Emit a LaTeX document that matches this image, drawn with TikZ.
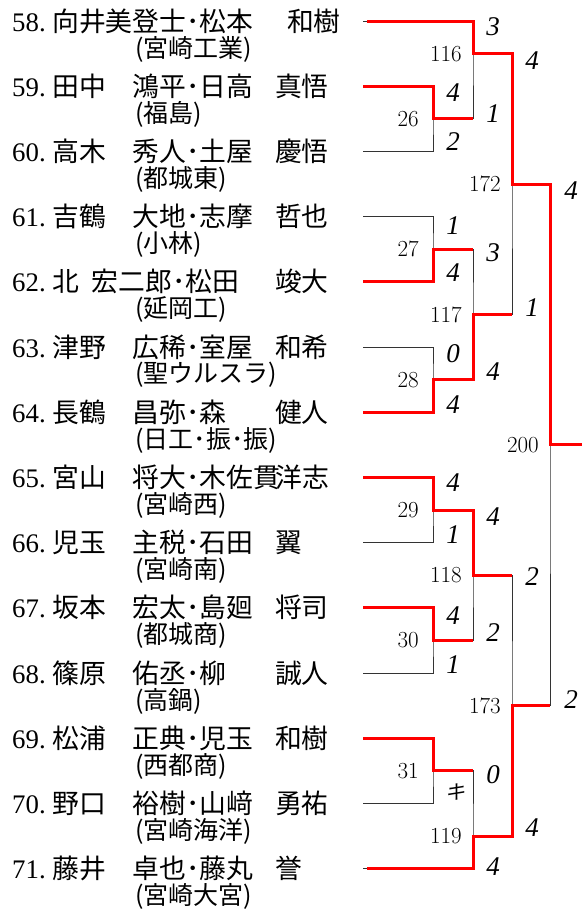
\documentclass[tikz,border=0pt]{standalone}
\usepackage{fontspec}
\usepackage{tikz}
\usetikzlibrary{positioning}
\newfontfamily\cjk{Noto Sans CJK JP}
\newfontfamily\cjkit[FakeSlant=0.2]{Noto Sans CJK JP}
\newfontfamily\lserif{Liberation Serif}

\begin{document}
\begin{tikzpicture}[x=1pt,y=-1pt,
    bline/.style={draw=black!80,line width=0.9pt},
    win/.style={draw=red,line width=3pt},
    pname/.style={anchor=west,inner sep=0pt,font=\fontsize{26.8}{30}\selectfont},
    school/.style={anchor=west,inner sep=0pt,font=\cjk\fontsize{25}{28}\selectfont},
    mno/.style={inner sep=0pt,font=\fontsize{23}{26}\selectfont},
    score/.style={inner sep=0pt,font=\lserif\itshape\fontsize{27}{30}\selectfont}]
    \useasboundingbox (0,0) rectangle (582,910);
    % players
    \foreach \n/\pa/\pb/\sch [count=\i from 0] in {
        58/向井美登士･松本/\hspace{12pt}和樹/宮崎工業,
        59/田中　鴻平･日高/真悟/福島,
        60/高木　秀人･土屋/慶悟/都城東,
        61/吉鶴　大地･志摩/哲也/小林,
        62/北\hspace{13pt}宏二郎･松田/竣大/延岡工,
        63/津野　広稀･室屋/和希/聖ウルスラ,
        64/長鶴　昌弥･森/健人/日工･振･振,
        65/宮山　将大･木佐貫/洋志/宮崎西,
        66/児玉　主税･石田/翼/宮崎南,
        67/坂本　宏太･島廻/将司/都城商,
        68/篠原　佑丞･柳/誠人/高鍋,
        69/松浦　正典･児玉/和樹/西都商,
        70/野口　裕樹･山﨑/勇祐/宮崎海洋,
        71/藤井　卓也･藤丸/誉/宮崎大宮}{
        \pgfmathsetmacro\yy{21+65.2*\i}
        \coordinate (e\n) at (363,\yy);
        \node[pname] (p\n) at (12,\yy) {\makebox[263pt][l]{\makebox[40pt][l]{\lserif\n.}{\cjk\pa}}{\cjk\pb}};
        \node[school] (q\n) at (135,\yy+28) {(\sch)};
    }
    % match points
    \coordinate (m26) at (433,118.8);
    \coordinate (m27) at (433,249.2);
    \coordinate (m28) at (433,379.6);
    \coordinate (m29) at (433,510);
    \coordinate (m30) at (433,640.4);
    \coordinate (m31) at (433,770.8);
    \coordinate (m116) at (473,53.6);
    \coordinate (m117) at (473,314.4);
    \coordinate (m118) at (473,575.2);
    \coordinate (m119) at (473,836);
    \coordinate (m172) at (512,184);
    \coordinate (m173) at (512,705.6);
    \coordinate (m200) at (550,444.8);
    \coordinate (champ) at (582,444.8);
    % bracket
    \draw[bline] (e59) -| (m26) |- (e60);
    \draw[bline] (e61) -| (m27) |- (e62);
    \draw[bline] (e63) -| (m28) |- (e64);
    \draw[bline] (e65) -| (m29) |- (e66);
    \draw[bline] (e67) -| (m30) |- (e68);
    \draw[bline] (e69) -| (m31) |- (e70);
    \draw[bline] (e58) -| (m116) |- (m26);
    \draw[bline] (m27) -| (m117) |- (m28);
    \draw[bline] (m29) -| (m118) |- (m30);
    \draw[bline] (m31) -| (m119) |- (e71);
    \draw[bline] (m116) -| (m172) |- (m117);
    \draw[bline] (m118) -| (m173) |- (m119);
    \draw[bline] (m172) -| (m200) |- (m173);
    % winners
    \draw[win] ([xshift=4pt]e58) -| (m116) -| (m172) -| (m200) -- (champ);
    \draw[win] (e59) -| (m26) -- (m26 -| m116);
    \draw[win] (e62) -| (m27) -- (m27 -| m117);
    \draw[win] (e64) -| (m28) -| (m117) -- (m117 -| m172);
    \draw[win] (e65) -| (m29) -| (m118) -- (m118 -| m173);
    \draw[win] (e67) -| (m30) -- (m30 -| m118);
    \draw[win] (e69) -| (m31) -- (m31 -| m119);
    \draw[win] ([xshift=4pt]e71) -| (m119) -| (m173) -- (m173 -| m200);
    % match numbers
    \node[mno,left=14pt of m26] (l26) {26};
    \node[mno,left=14pt of m27] (l27) {27};
    \node[mno,left=14pt of m28] (l28) {28};
    \node[mno,left=14pt of m29] (l29) {29};
    \node[mno,left=14pt of m30] (l30) {30};
    \node[mno,left=14pt of m31] (l31) {31};
    \node[mno,left=11pt of m116] (l116) {116};
    \node[mno,left=11pt of m117] (l117) {117};
    \node[mno,left=11pt of m118] (l118) {118};
    \node[mno,left=11pt of m119] (l119) {119};
    \node[mno,left=11pt of m172] (l172) {172};
    \node[mno,left=11pt of m173] (l173) {173};
    \node[mno,left=11pt of m200] (l200) {200};
    % scores
    \foreach \x/\y/\s [count=\k] in {453/93/4, 453/142/2, 453/226/1, 453/273/4,
        453/354/0, 453/405/4, 453/483/4, 453/535/1, 453/616/4, 453/665/1,
        493/27/3, 493/114/1, 493/253/3, 493/372/4, 493/517/4, 493/633/2,
        493/775/0, 493/867/4, 532/61/4, 532/308/1, 532/577/2, 532/828/4,
        571/191/4, 571/700/2}
        \node[score] (s\k) at (\x,\y) {\s};
    \node[score,font=\cjkit\fontsize{20}{22}\selectfont] (s25) at (455,792) {キ};
\end{tikzpicture}
\end{document}
